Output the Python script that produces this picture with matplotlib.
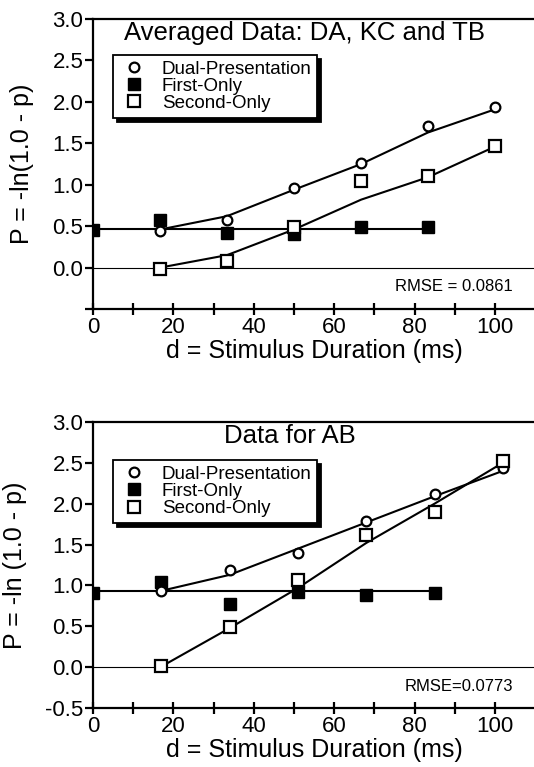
import matplotlib
matplotlib.use("Agg")
import matplotlib.pyplot as plt
from matplotlib.ticker import FixedLocator

plt.rcParams["font.family"] = ["Liberation Sans", "DejaVu Sans"]

# ---- top panel: averaged data (DA, KC, TB) ----
top_x = [16.7, 33.3, 50.0, 66.7, 83.3, 100.0]
top_first_x = [0.0, 16.7, 33.3, 50.0, 66.7, 83.3]
top_dual = [0.44, 0.57, 0.96, 1.26, 1.71, 1.94]
top_first = [0.45, 0.57, 0.42, 0.40, 0.49, 0.49]
top_second = [-0.02, 0.08, 0.49, 1.05, 1.11, 1.47]
top_dual_fit = [0.46, 0.62, 0.94, 1.25, 1.63, 1.91]
top_first_fit = [0.46, 0.46, 0.46, 0.46, 0.46, 0.46]
top_second_fit = [0.0, 0.15, 0.46, 0.82, 1.09, 1.46]

# ---- bottom panel: AB ----
bot_x = [17, 34, 51, 68, 85, 102]
bot_first_x = [0, 17, 34, 51, 68, 85]
bot_dual = [0.93, 1.19, 1.40, 1.79, 2.12, 2.44]
bot_first = [0.91, 1.04, 0.78, 0.92, 0.88, 0.91]
bot_second = [0.02, 0.49, 1.07, 1.62, 1.90, 2.52]
bot_dual_fit = [0.935, 1.13, 1.45, 1.77, 2.09, 2.40]
bot_first_fit = [0.935] * 6
bot_second_fit = [0.01, 0.48, 0.97, 1.52, 2.00, 2.50]

yticks = [-0.5, 0.0, 0.5, 1.0, 1.5, 2.0, 2.5, 3.0]

panels = [
    dict(pos=[0.1742, 0.5971, 0.828, 0.3781], x=top_x, fx=top_first_x,
         dual=top_dual, first=top_first, second=top_second,
         dfit=top_dual_fit, ffit=top_first_fit, sfit=top_second_fit,
         title="Averaged Data: DA, KC and TB", title_x=52.5, ylabel="P = -ln(1.0 - p)",
         rmse="RMSE = 0.0861", yticklabels=["", "0.0", "0.5", "1.0", "1.5", "2.0", "2.5", "3.0"],
         leg_top=0.876),
    dict(pos=[0.1742, 0.0765, 0.828, 0.3737], x=bot_x, fx=bot_first_x,
         dual=bot_dual, first=bot_first, second=bot_second,
         dfit=bot_dual_fit, ffit=bot_first_fit, sfit=bot_second_fit,
         title="Data for AB", title_x=49, ylabel="P = -ln (1.0 - p)",
         rmse="RMSE=0.0773", yticklabels=["-0.5", "0.0", "0.5", "1.0", "1.5", "2.0", "2.5", "3.0"],
         leg_top=0.866),
]

fig = plt.figure(figsize=(5.34, 7.67), dpi=100)

for p in panels:
    ax = fig.add_axes(p["pos"])
    ax.set_xlim(0, 110)
    ax.set_ylim(-0.5, 3.0)

    ax.axhline(0, color="black", lw=0.8, zorder=1)

    ax.plot(p["x"], p["dfit"], color="black", lw=1.5, zorder=2)
    ax.plot(p["fx"], p["ffit"], color="black", lw=1.5, zorder=2)
    ax.plot(p["x"], p["sfit"], color="black", lw=1.5, zorder=2)

    ax.plot(p["fx"], p["first"], ls="none", marker="s", ms=9, mfc="black",
            mec="black", zorder=3, label="First-Only")
    ax.plot(p["x"], p["dual"], ls="none", marker="o", ms=7, mfc="white",
            mec="black", mew=1.6, zorder=4, label="Dual-Presentation")
    ax.plot(p["x"], p["second"], ls="none", marker="s", ms=9, mfc="white",
            mec="black", mew=1.6, zorder=5, label="Second-Only")

    handles, labels = ax.get_legend_handles_labels()
    order = [1, 0, 2]
    leg = ax.legend([handles[i] for i in order], [labels[i] for i in order],
                    loc="upper left", bbox_to_anchor=(0.045, p["leg_top"]),
                    borderaxespad=0, fontsize=13.5, frameon=True, fancybox=False,
                    edgecolor="black", labelspacing=0.0, handletextpad=0.7,
                    handlelength=1.6, borderpad=0.3,
                    shadow={"color": "black", "alpha": 1, "ox": 3, "oy": -3})
    leg.get_frame().set_linewidth(1.3)

    ax.text(p["title_x"], 2.83, p["title"], ha="center", va="center", fontsize=18.5)
    ax.text(104.5, -0.23, p["rmse"], ha="right", va="center", fontsize=12)

    ax.spines["right"].set_visible(False)
    for s in ["left", "bottom", "top"]:
        ax.spines[s].set_linewidth(1.6)

    ax.xaxis.set_major_locator(FixedLocator([0, 20, 40, 60, 80, 100]))
    ax.xaxis.set_minor_locator(FixedLocator([10, 30, 50, 70, 90]))
    ax.tick_params(axis="x", which="both", direction="inout", length=9,
                   width=1.6, labelsize=16, pad=1)
    ax.yaxis.set_major_locator(FixedLocator(yticks))
    ax.set_yticklabels(p["yticklabels"])
    ax.tick_params(axis="y", direction="out", length=6, width=1.6,
                   labelsize=16, pad=1)

    ax.set_xlabel("d = Stimulus Duration (ms)", fontsize=18, labelpad=1)
    ax.set_ylabel(p["ylabel"], fontsize=18, labelpad=13)

fig.savefig("out.png", dpi=100)
